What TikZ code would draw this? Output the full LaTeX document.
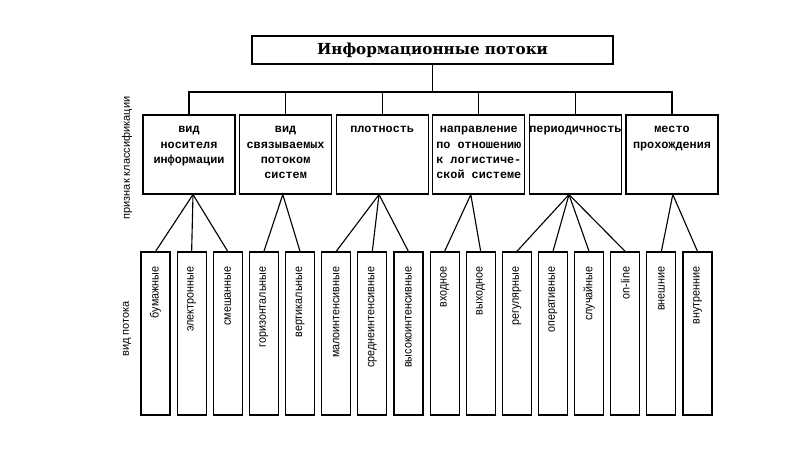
\documentclass[tikz,border=0pt]{standalone}
\usepackage{fontspec}
\setmainfont{Liberation Sans}
\newfontfamily\titlefont{DejaVu Serif}
\newfontfamily\headfont{Liberation Mono}
\newfontfamily\narrowfont[FakeStretch=0.9]{Liberation Sans}

\tikzset{
 titlebox/.style={draw, line width=0.8pt, minimum width=9.025cm, minimum height=0.7cm, inner sep=0pt, font=\titlefont\bfseries\fontsize{10.8}{13}\selectfont},
 headbox/.style={draw, line width=0.8pt, minimum width=2.3cm, minimum height=1.975cm, inner sep=0pt},
 headtext/.style={anchor=north, align=center, inner sep=0pt, font=\headfont\bfseries\fontsize{8.4}{11}\selectfont},
 kindbox/.style={draw, line width=0.8pt, minimum width=0.725cm, minimum height=4.075cm, inner sep=0pt},
 kindtext/.style={rotate=90, anchor=east, inner sep=0pt, font=\narrowfont\fontsize{8.5}{10}\selectfont},
 sidetext/.style={rotate=90, inner sep=0pt, font=\fontsize{7.8}{9}\selectfont},
 link/.style={line width=0.8pt}
}

\begin{document}
\begin{tikzpicture}
 \path[fill=white] (0,0) rectangle (20,11.25);

 % title and classification features
 \node[titlebox] (flows) at (10.8125,10) {Информационные потоки};

 \node[headbox] (carrier) at (4.725,7.3875) {};
 \node[headbox] (systems) at (7.14,7.3875) {};
 \node[headbox] (density) at (9.555,7.3875) {};
 \node[headbox] (direction) at (11.97,7.3875) {};
 \node[headbox] (period) at (14.385,7.3875) {};
 \node[headbox] (place) at (16.8,7.3875) {};

 \node[headtext] (carrier-t) at ([yshift=-0.175cm]carrier.north) {\strut вид\\носителя\\информации};
 \node[headtext] (systems-t) at ([yshift=-0.175cm]systems.north) {\strut вид\\связываемых\\потоком\\систем};
 \node[headtext] (density-t) at ([yshift=-0.175cm]density.north) {\strut плотность};
 \node[headtext] (direction-t) at ([yshift=-0.175cm]direction.north) {\strut направление\\по отношению\\к логистиче-\\ской системе};
 \node[headtext] (period-t) at ([yshift=-0.175cm]period.north) {\strut периодичность};
 \node[headtext] (place-t) at ([yshift=-0.175cm]place.north) {\strut место\\прохождения};

 \coordinate (bus) at (10.8125,8.95);
 \draw[link] (flows.south) -- (bus);
 \draw[link] (carrier.north) |- (bus) -| (place.north);
 \draw[link] (systems.north) -- (systems.north |- bus);
 \draw[link] (density.north) -- (density.north |- bus);
 \draw[link] (direction.north) -- (direction.north |- bus);
 \draw[link] (period.north) -- (period.north |- bus);

 % kinds of flow
 \node[kindbox] (paper) at (3.888,2.9125) {};
 \node[kindbox] (electronic) at (4.791,2.9125) {};
 \node[kindbox] (mixed) at (5.694,2.9125) {};
 \node[kindbox] (horizontal) at (6.598,2.9125) {};
 \node[kindbox] (vertical) at (7.501,2.9125) {};
 \node[kindbox] (lowint) at (8.404,2.9125) {};
 \node[kindbox] (midint) at (9.308,2.9125) {};
 \node[kindbox] (highint) at (10.211,2.9125) {};
 \node[kindbox] (input) at (11.114,2.9125) {};
 \node[kindbox] (output) at (12.018,2.9125) {};
 \node[kindbox] (regular) at (12.921,2.9125) {};
 \node[kindbox] (operative) at (13.824,2.9125) {};
 \node[kindbox] (random) at (14.728,2.9125) {};
 \node[kindbox] (online) at (15.631,2.9125) {};
 \node[kindbox] (external) at (16.534,2.9125) {};
 \node[kindbox] (internal) at (17.438,2.9125) {};

 \node[kindtext] (paper-t) at ([yshift=-0.375cm]paper.north) {бумажные};
 \node[kindtext] (electronic-t) at ([yshift=-0.375cm]electronic.north) {электронные};
 \node[kindtext] (mixed-t) at ([yshift=-0.375cm]mixed.north) {смешанные};
 \node[kindtext] (horizontal-t) at ([yshift=-0.375cm]horizontal.north) {горизонтальные};
 \node[kindtext] (vertical-t) at ([yshift=-0.375cm]vertical.north) {вертикальные};
 \node[kindtext] (lowint-t) at ([yshift=-0.375cm]lowint.north) {малоинтенсивные};
 \node[kindtext] (midint-t) at ([yshift=-0.375cm]midint.north) {среднеинтенсивные};
 \node[kindtext] (highint-t) at ([yshift=-0.375cm]highint.north) {высокоинтенсивные};
 \node[kindtext] (input-t) at ([yshift=-0.375cm]input.north) {входное};
 \node[kindtext] (output-t) at ([yshift=-0.375cm]output.north) {выходное};
 \node[kindtext] (regular-t) at ([yshift=-0.375cm]regular.north) {регулярные};
 \node[kindtext] (operative-t) at ([yshift=-0.375cm]operative.north) {оперативные};
 \node[kindtext] (random-t) at ([yshift=-0.375cm]random.north) {случайные};
 \node[kindtext] (online-t) at ([yshift=-0.375cm]online.north) {on-line};
 \node[kindtext] (external-t) at ([yshift=-0.375cm]external.north) {внешние};
 \node[kindtext] (internal-t) at ([yshift=-0.375cm]internal.north) {внутренние};

 \draw[link] (paper.north) -- ([xshift=1mm]carrier.south) -- (mixed.north);
 \draw[link] (electronic.north) -- ([xshift=1mm]carrier.south);
 \draw[link] (horizontal.north) -- ([xshift=-0.7mm]systems.south) -- (vertical.north);
 \draw[link] (lowint.north) -- ([xshift=-0.8mm]density.south) -- (highint.north);
 \draw[link] (midint.north) -- ([xshift=-0.8mm]density.south);
 \draw[link] (input.north) -- ([xshift=-2mm]direction.south) -- (output.north);
 \draw[link] (regular.north) -- ([xshift=-1.6mm]period.south) -- (online.north);
 \draw[link] (operative.north) -- ([xshift=-1.6mm]period.south) -- (random.north);
 \draw[link] (external.north) -- ([xshift=0.2mm]place.south) -- (internal.north);

 % side captions
 \node[sidetext] (feature) at (3.175,7.3) {признак классификации};
 \node[sidetext] (kind) at (3.175,3.025) {вид потока};
\end{tikzpicture}
\end{document}
